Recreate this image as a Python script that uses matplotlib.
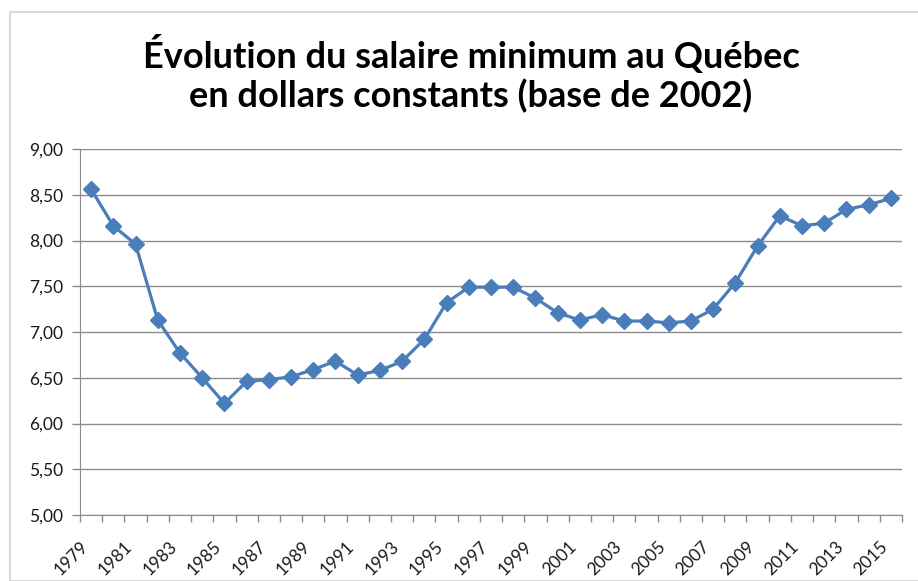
import matplotlib
matplotlib.use('Agg')
import matplotlib.pyplot as plt
from matplotlib.patches import Rectangle
from matplotlib.ticker import FixedLocator, FuncFormatter

# salaire minimum en dollars constants (base 2002)
years = list(range(1979, 2016))
wages = [8.56, 8.16, 7.96, 7.13, 6.77, 6.50, 6.22, 6.46, 6.48, 6.51,
         6.59, 6.68, 6.53, 6.58, 6.68, 6.92, 7.32, 7.49, 7.49, 7.49,
         7.37, 7.21, 7.13, 7.19, 7.12, 7.12, 7.10, 7.12, 7.25, 7.54,
         7.94, 8.27, 8.16, 8.19, 8.34, 8.39, 8.46]
y_ticks = [5.0, 5.5, 6.0, 6.5, 7.0, 7.5, 8.0, 8.5, 9.0]
title = "Évolution du salaire minimum au Québec\nen dollars constants (base de 2002)"

plt.rcParams['font.family'] = ['Lato', 'DejaVu Sans']

W, H = 918, 581
fig = plt.figure(figsize=[W / 100, H / 100], dpi=100)

# cadre gris clair autour du graphique
fig.patches.append(Rectangle((10 / W, 0 / H), 1.2, (H - 12) / H,
                             transform=fig.transFigure, fill=False,
                             edgecolor='#d9d9d9', linewidth=1.5))

ax = fig.add_axes([80 / W, 1 - 515 / H, (902 - 80) / W, (515 - 149) / H])

x = list(range(len(years)))
ax.plot(x, wages, color='#4a7ebb', linewidth=2.3, marker='D',
        markersize=8.5, markeredgecolor='#4a7ebb', zorder=3)

ax.set_xlim(-0.5, len(years) - 0.5)
ax.set_ylim(5, 9)
ax.set_yticks(y_ticks)
ax.yaxis.set_major_formatter(FuncFormatter(lambda v, p: ('%.2f' % v).replace('.', ',')))
ax.grid(axis='y', color='#8c8c8c', linewidth=1)
ax.set_axisbelow(True)

# labels every other year, ticks between categories
ax.set_xticks(x[::2])
ax.set_xticklabels([str(y) for y in years[::2]], rotation=45, ha='right', va='top')
ax.xaxis.set_minor_locator(FixedLocator([i - 0.5 for i in range(len(years) + 1)]))
ax.tick_params(axis='x', which='major', length=0, pad=17, labelsize=12.5, labelcolor='#1a1a1a')
ax.tick_params(axis='x', which='minor', length=5, color='#8c8c8c', width=1)
ax.tick_params(axis='y', length=6, color='#8c8c8c', width=1, pad=6, labelsize=12.5, labelcolor='#1a1a1a')

for s in ['top', 'right']:
    ax.spines[s].set_visible(False)
ax.spines['left'].set_color('#8c8c8c')
ax.spines['bottom'].set_color('#8c8c8c')

fig.text(471 / W, 1 - 107 / H, title, ha='center', va='baseline',
         fontsize=26, fontweight='bold', linespacing=1.15, color='black')

fig.savefig('out.png', dpi=100)
